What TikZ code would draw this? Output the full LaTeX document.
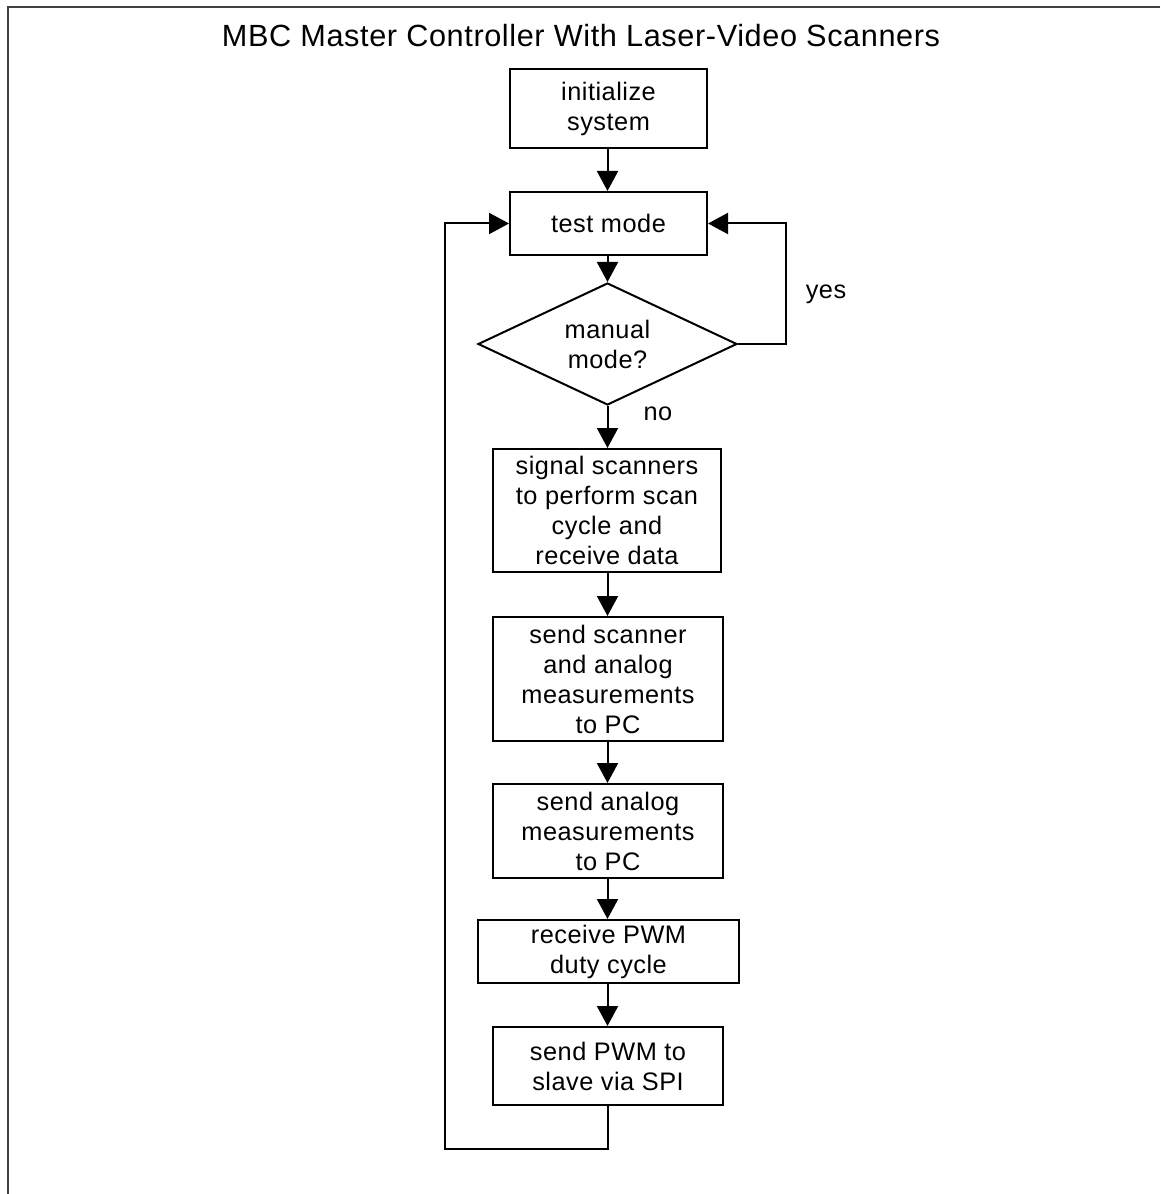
\documentclass[tikz,border=0pt]{standalone}
\usepackage{fontspec}
\setmainfont{Liberation Sans}[LetterSpace=2]
\usetikzlibrary{arrows.meta,shapes.geometric}

\begin{document}
\begin{tikzpicture}[
  x=0.75pt, y=-0.75pt,
  line width=1.5pt,
  boxtext/.style={font=\fontsize{19}{22.5}\selectfont},
  proc/.style={draw, rectangle, align=center, inner sep=0pt, boxtext},
  decide/.style={draw, diamond, shape aspect=2.1, align=center, inner sep=0pt, boxtext},
  flow/.style={-{Triangle[width=15.75pt,length=15pt]}}
]
% canvas
\useasboundingbox (0,0) rectangle (1160,1194);
\fill[white] (0,0) rectangle (1160,1194);

% partial frame: top and left edges
\draw[line width=1.6pt, black!75] (1160,7) -- (8,7) -- (8,1194);

% title
\node[anchor=base, font=\fontsize{23}{27}\selectfont] (title) at (581,47)
  {MBC Master Controller With Laser-Video Scanners};

% process steps
\node[proc, minimum width=197*0.75pt, minimum height=79*0.75pt] (init) at (608.5,108.5)
  {initialize\\system};
\node[proc, minimum width=197*0.75pt, minimum height=63*0.75pt] (test) at (608.5,223.5)
  {test mode};
\node[decide, minimum width=259*0.75pt, minimum height=122*0.75pt] (manual) at (607.5,344)
  {manual\\mode?};
\node[proc, minimum width=228*0.75pt, minimum height=123*0.75pt] (signal) at (607,510.5)
  {signal scanners\\to perform scan\\cycle and\\receive data};
\node[proc, minimum width=230*0.75pt, minimum height=124*0.75pt] (sendscan) at (608,679)
  {send scanner\\and analog\\measurements\\to PC};
\node[proc, minimum width=230*0.75pt, minimum height=94*0.75pt] (sendana) at (608,831)
  {send analog\\measurements\\to PC};
\node[proc, minimum width=261*0.75pt, minimum height=63*0.75pt] (recv) at (608.5,951.5)
  {receive PWM\\duty cycle};
\node[proc, minimum width=230*0.75pt, minimum height=78*0.75pt] (pwm) at (608,1066)
  {send PWM to\\slave via SPI};

% branch labels
\node[anchor=base, boxtext] (yes) at (826,299) {yes};
\node[anchor=base, boxtext] (no) at (658,420) {no};

% loop corners
\coordinate (yescorner) at (786,344);
\coordinate (bottomcorner) at (607.5,1149);
\coordinate (leftcorner) at (445,1149);

% main flow
\draw[flow] (init.south -| manual.north) -- (test.north -| manual.north);
\draw[flow] (test.south -| manual.north) -- (manual.north);
\draw[flow] (manual.south) -- (manual.south |- signal.north);
\draw[flow] (signal.south -| manual.south) -- (sendscan.north -| manual.south);
\draw[flow] (sendscan.south -| manual.south) -- (sendana.north -| manual.south);
\draw[flow] (sendana.south -| manual.south) -- (recv.north -| manual.south);
\draw[flow] (recv.south -| manual.south) -- (pwm.north -| manual.south);

% "yes" returns to test mode
\draw[flow] (manual.east) -- (yescorner) -- (yescorner |- test.east) -- (test.east);

% repeat cycle from last step back to test mode
\draw[flow] (pwm.south -| manual.south) -- (bottomcorner) -- (leftcorner)
  -- (leftcorner |- test.west) -- (test.west);
\end{tikzpicture}
\end{document}
